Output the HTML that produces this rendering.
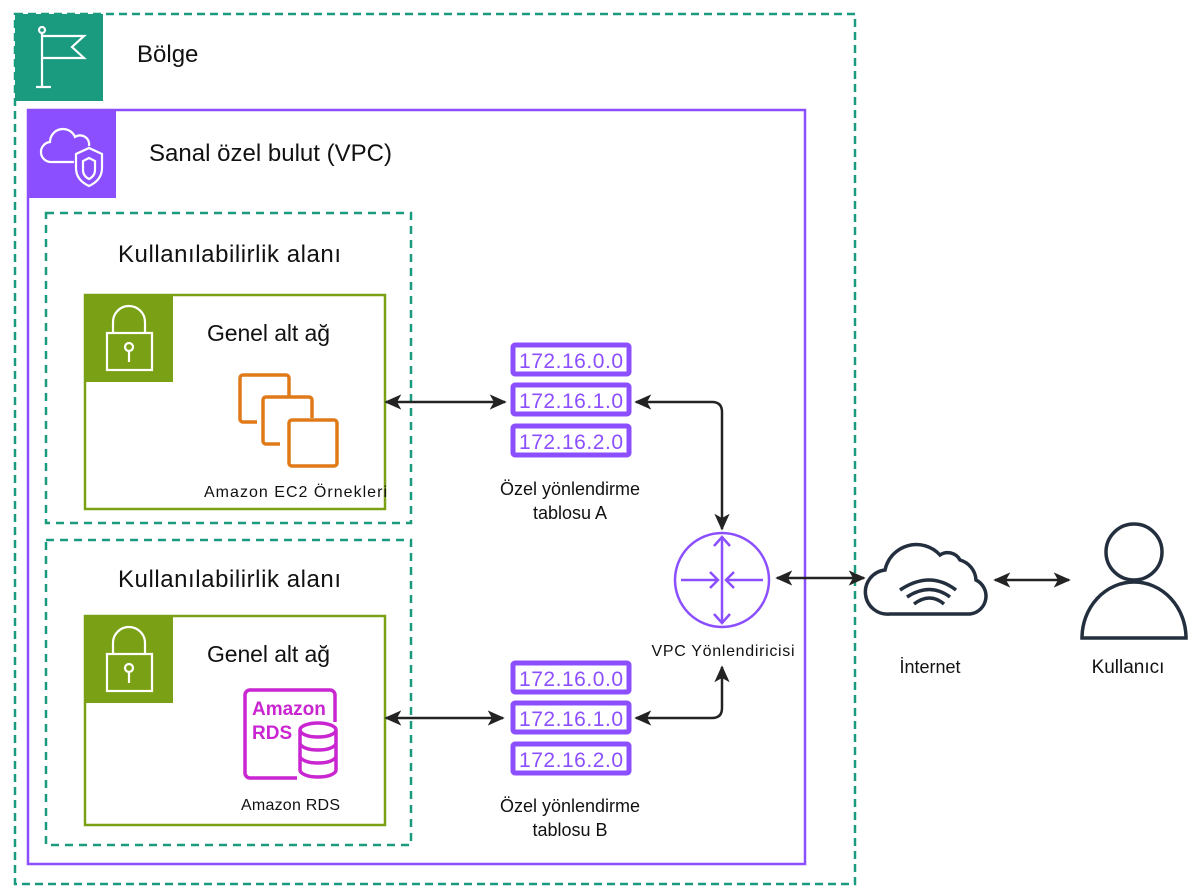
<!DOCTYPE html>
<html><head><meta charset="utf-8"><style>
html,body{margin:0;padding:0;background:#fff;}
svg{display:block;font-family:"Liberation Sans","DejaVu Sans",sans-serif;}
</style></head><body>
<svg width="1200" height="896" viewBox="0 0 1200 896">
<defs>
<marker id="ah" viewBox="0 0 10 10" refX="9" refY="5" markerUnits="userSpaceOnUse" markerWidth="17" markerHeight="17" orient="auto-start-reverse">
<path d="M0,0.5 L10,5 L0,9.5 L2.5,5 z" fill="#232323"/></marker>
</defs>
<rect width="1200" height="896" fill="#fff"/>
<rect x="15" y="14" width="840" height="870" fill="none" stroke="#1a9a7f" stroke-width="2.5" stroke-dasharray="8,5"/>
<rect x="15" y="14" width="88" height="87" fill="#1a9a7f"/>
<g stroke="#fff" stroke-width="2.2" fill="none">
<circle cx="42" cy="30" r="3"/><line x1="42" y1="33" x2="42" y2="87"/><line x1="36" y1="87" x2="51" y2="87"/>
<path d="M42,36 H84 L72,47 L84,58 H42"/></g>
<text x="137" y="62" font-size="24" fill="#111">Bölge</text>
<rect x="28" y="110" width="777" height="754" fill="none" stroke="#8c4fff" stroke-width="2.5"/>
<rect x="28" y="110" width="88" height="88" fill="#8c4fff"/>
<g stroke="#fff" stroke-width="2.2" fill="none">
<path d="M74,162 H52 A10,10 0 0 1 50,142 A13,13 0 0 1 75,137 A9,9 0 0 1 89,146"/>
<path d="M89,148 L102,154 V168 Q102,180 89,186 Q76,180 76,168 V154 Z"/>
<path d="M89,158 L95,161 V170 Q95,176 89,179 Q83,176 83,170 V161 Z"/></g>
<text x="149" y="161" font-size="24" fill="#111" textLength="243">Sanal özel bulut (VPC)</text>
<rect x="46" y="213" width="365" height="310" fill="none" stroke="#1a9a7f" stroke-width="2.5" stroke-dasharray="8,6"/>
<text x="118" y="262" font-size="24" fill="#111" textLength="223">Kullanılabilirlik alanı</text>
<rect x="85" y="295" width="300" height="214" fill="none" stroke="#7aa116" stroke-width="2.5"/>
<rect x="85" y="295" width="88" height="87" fill="#7aa116"/>
<g stroke="#fff" stroke-width="2.2" fill="none">
<path d="M113,333 V322 A16,16 0 0 1 145,322 V333"/><rect x="107" y="333" width="45" height="37"/>
<circle cx="129" cy="347" r="4"/><line x1="129" y1="351" x2="129" y2="362"/></g>
<text x="207" y="341" font-size="23" fill="#111" textLength="123">Genel alt ağ</text>
<g stroke="#e07a18" stroke-width="3.5" fill="none">
<path d="M257,422 h-14 a3,3 0 0 1 -3,-3 v-41 a3,3 0 0 1 3,-3 h43 a3,3 0 0 1 3,3 v19"/>
<path d="M280,444 h-14 a3,3 0 0 1 -3,-3 v-41 a3,3 0 0 1 3,-3 h43 a3,3 0 0 1 3,3 v18"/>
<rect x="289" y="420" width="48" height="46" rx="3"/></g>
<text x="204" y="497" font-size="16" fill="#111" textLength="183">Amazon EC2 Örnekleri</text>
<rect x="46" y="540" width="365" height="305" fill="none" stroke="#1a9a7f" stroke-width="2.5" stroke-dasharray="8,6"/>
<text x="118" y="587" font-size="24" fill="#111" textLength="223">Kullanılabilirlik alanı</text>
<rect x="85" y="616" width="300" height="209" fill="none" stroke="#7aa116" stroke-width="2.5"/>
<rect x="85" y="616" width="88" height="87" fill="#7aa116"/>
<g stroke="#fff" stroke-width="2.2" fill="none">
<path d="M113,654 V643 A16,16 0 0 1 145,643 V654"/><rect x="107" y="654" width="45" height="37"/>
<circle cx="129" cy="668" r="4"/><line x1="129" y1="672" x2="129" y2="683"/></g>
<text x="207" y="662" font-size="23" fill="#111" textLength="123">Genel alt ağ</text>
<g stroke="#c925d1" stroke-width="3.5" fill="none">
<path d="M297,778 H250 a5,5 0 0 1 -5,-5 V695 a5,5 0 0 1 5,-5 H330 a5,5 0 0 1 5,5 V722"/>
<ellipse cx="318" cy="730" rx="18" ry="7" fill="#fff"/>
<path d="M300,730 V770 a18,7 0 0 0 36,0 V730"/>
<path d="M300,743 a18,7 0 0 0 36,0"/><path d="M300,756 a18,7 0 0 0 36,0"/></g>
<text x="252" y="715" font-size="19" font-weight="bold" fill="#c925d1">Amazon</text>
<text x="252" y="739" font-size="19" font-weight="bold" fill="#c925d1">RDS</text>
<text x="241" y="810" font-size="16" fill="#111" textLength="99">Amazon RDS</text>
<g fill="none" stroke="#8c4fff" stroke-width="5">
<rect x="513" y="345" width="116" height="29" rx="2"/><rect x="513" y="385" width="116" height="29" rx="2"/><rect x="513" y="426" width="116" height="29" rx="2"/>
<rect x="513" y="663" width="116" height="29" rx="2"/><rect x="513" y="703" width="116" height="29" rx="2"/><rect x="513" y="744" width="116" height="29" rx="2"/></g>
<g font-size="21" fill="#8c4fff">
<text x="519" y="368" textLength="104">172.16.0.0</text><text x="519" y="408" textLength="104">172.16.1.0</text><text x="519" y="449" textLength="104">172.16.2.0</text>
<text x="519" y="686" textLength="104">172.16.0.0</text><text x="519" y="726" textLength="104">172.16.1.0</text><text x="519" y="767" textLength="104">172.16.2.0</text></g>
<g font-size="18" fill="#111" text-anchor="middle">
<text x="570" y="495">Özel yönlendirme</text><text x="570" y="519">tablosu A</text>
<text x="570" y="812">Özel yönlendirme</text><text x="570" y="836">tablosu B</text>
<text x="723" y="656" font-size="16" textLength="143">VPC Yönlendiricisi</text>
<text x="930" y="673">İnternet</text><text x="1128" y="673" font-size="19">Kullanıcı</text></g>
<g stroke="#8c4fff" stroke-width="2.5" fill="none">
<circle cx="722" cy="580" r="47"/>
<line x1="722" y1="537" x2="722" y2="623"/>
<path d="M714,546 L722,537 L730,546 M714,614 L722,623 L730,614"/>
<line x1="681" y1="580" x2="718" y2="580"/><path d="M710,572 L718,580 L710,588"/>
<line x1="763" y1="580" x2="726" y2="580"/><path d="M734,572 L726,580 L734,588"/></g>
<g stroke="#232323" stroke-width="2.5" fill="none" marker-start="url(#ah)" marker-end="url(#ah)">
<line x1="386" y1="402" x2="505" y2="402"/>
<line x1="386" y1="718" x2="503" y2="718"/>
<path d="M636,402 H712 Q722,402 722,412 V529"/>
<path d="M636,718 H712 Q722,718 722,708 V667"/>
<line x1="777" y1="578" x2="864" y2="578"/>
<line x1="995" y1="580" x2="1069" y2="580"/></g>
<g stroke="#232f3e" stroke-width="3.5" fill="none">
<path d="M890,614 H970 A18,18 0 0 0 976,580 A22,22 0 0 0 960,560 A14,14 0 0 0 940,555 A32,32 0 0 0 885,570 A22,22 0 0 0 890,614 Z"/>
<path d="M900,590 Q930,570 956,590"/><path d="M907,597 Q930,582 950,597"/><path d="M914,604 Q930,592 944,604"/></g>
<g stroke="#232f3e" stroke-width="3.5" fill="none">
<circle cx="1134" cy="552" r="28"/>
<path d="M1082,638 A52,56 0 0 1 1186,638 Z"/></g>
</svg>
</body></html>
